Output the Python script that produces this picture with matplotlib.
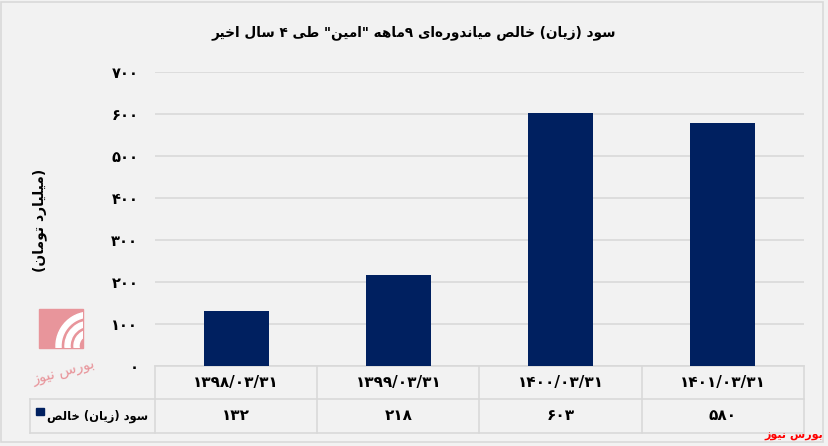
import matplotlib
matplotlib.use('Agg')
import matplotlib.pyplot as plt
from matplotlib.patches import Rectangle, Wedge
from matplotlib.lines import Line2D

# data
categories = ['۱۳۹۸/۰۳/۳۱', '۱۳۹۹/۰۳/۳۱', '۱۴۰۰/۰۳/۳۱', '۱۴۰۱/۰۳/۳۱']
values = [132, 218, 603, 580]
value_labels = ['۱۳۲', '۲۱۸', '۶۰۳', '۵۸۰']
y_ticks = [0, 100, 200, 300, 400, 500, 600, 700]
y_tick_labels = ['۰', '۱۰۰', '۲۰۰', '۳۰۰', '۴۰۰', '۵۰۰', '۶۰۰', '۷۰۰']
title = 'سود (زیان) خالص میاندوره\u200cای ۹ماهه "امین" طی ۴ سال اخیر'
y_label = '(میلیارد تومان)'
series_name = 'سود (زیان) خالص'
source = 'بورس نیوز'

# presentation forms: isolated, final, initial, medial (None = right-joining only)
FORMS = {
    'ا': (0xFE8D, 0xFE8E, None, None),
    'ب': (0xFE8F, 0xFE90, 0xFE91, 0xFE92),
    'ت': (0xFE95, 0xFE96, 0xFE97, 0xFE98),
    'ث': (0xFE99, 0xFE9A, 0xFE9B, 0xFE9C),
    'ج': (0xFE9D, 0xFE9E, 0xFE9F, 0xFEA0),
    'ح': (0xFEA1, 0xFEA2, 0xFEA3, 0xFEA4),
    'خ': (0xFEA5, 0xFEA6, 0xFEA7, 0xFEA8),
    'د': (0xFEA9, 0xFEAA, None, None),
    'ذ': (0xFEAB, 0xFEAC, None, None),
    'ر': (0xFEAD, 0xFEAE, None, None),
    'ز': (0xFEAF, 0xFEB0, None, None),
    'س': (0xFEB1, 0xFEB2, 0xFEB3, 0xFEB4),
    'ش': (0xFEB5, 0xFEB6, 0xFEB7, 0xFEB8),
    'ص': (0xFEB9, 0xFEBA, 0xFEBB, 0xFEBC),
    'ض': (0xFEBD, 0xFEBE, 0xFEBF, 0xFEC0),
    'ط': (0xFEC1, 0xFEC2, 0xFEC3, 0xFEC4),
    'ظ': (0xFEC5, 0xFEC6, 0xFEC7, 0xFEC8),
    'ع': (0xFEC9, 0xFECA, 0xFECB, 0xFECC),
    'غ': (0xFECD, 0xFECE, 0xFECF, 0xFED0),
    'ف': (0xFED1, 0xFED2, 0xFED3, 0xFED4),
    'ق': (0xFED5, 0xFED6, 0xFED7, 0xFED8),
    'ل': (0xFEDD, 0xFEDE, 0xFEDF, 0xFEE0),
    'م': (0xFEE1, 0xFEE2, 0xFEE3, 0xFEE4),
    'ن': (0xFEE5, 0xFEE6, 0xFEE7, 0xFEE8),
    'و': (0xFEED, 0xFEEE, None, None),
    'ه': (0xFEE9, 0xFEEA, 0xFEEB, 0xFEEC),
    # Persian yeh: dotless when isolated/final, dotted when joined forward
    'ی': (0xFEEF, 0xFEF0, 0xFEF3, 0xFEF4),
}
MIRROR = {'(': ')', ')': '('}


def shape(text):
    # join letters into contextual forms
    out = []
    n = len(text)
    for i, ch in enumerate(text):
        if ch == '\u200c':
            continue
        if ch not in FORMS:
            out.append(ch)
            continue
        f = FORMS[ch]
        prev = text[i - 1] if i > 0 else ''
        nxt = text[i + 1] if i + 1 < n else ''
        join_prev = prev in FORMS and FORMS[prev][2] is not None
        join_next = nxt in FORMS and f[2] is not None
        if join_prev and join_next:
            code = f[3]
        elif join_prev:
            code = f[1]
        elif join_next:
            code = f[2]
        else:
            code = f[0]
        out.append(chr(code))
    return ''.join(out)


def rtl(text):
    # shape, then reverse for display while keeping digit runs in order
    s = shape(text)
    runs = []
    buf = ''
    for ch in s:
        if '\u06f0' <= ch <= '\u06f9' or ch.isdigit():
            buf += ch
        else:
            if buf:
                runs.append(buf)
                buf = ''
            runs.append(MIRROR.get(ch, ch))
    if buf:
        runs.append(buf)
    return ''.join(reversed(runs))


plt.rcParams['font.family'] = ['DejaVu Sans']
plt.rcParams['font.weight'] = 'bold'

W, H = 829, 446
fig = plt.figure(figsize=(W / 100, H / 100), dpi=100, facecolor='#f2f2f2')

# outer frame
fig.add_artist(Rectangle((1 / W, 1 - 442 / H), 822 / W, 440 / H, transform=fig.transFigure,
                         fill=False, edgecolor='#d9d9d9', lw=1.2))

ax_l, ax_r, ax_top, ax_bot = 155, 804, 72.3, 366.3
ax = fig.add_axes([ax_l / W, 1 - ax_bot / H, (ax_r - ax_l) / W, (ax_bot - ax_top) / H])
ax.set_facecolor('#f2f2f2')

x = list(range(len(categories)))
ax.bar(x, values, width=0.4, color='#002060', zorder=3)
ax.set_xlim(-0.5, len(categories) - 0.5)
ax.set_ylim(0, 700)
ax.set_yticks(y_ticks)
ax.set_yticklabels(y_tick_labels, fontsize=10.5, fontweight='bold')
ax.set_xticks([])
ax.tick_params(axis='y', length=0, pad=12)
ax.grid(axis='y', color='#d9d9d9', lw=1.2, zorder=0)
for s in ax.spines.values():
    s.set_visible(False)

# data table under the chart
bt = ax.get_xaxis_transform()
axh = ax_bot - ax_top
axw = ax_r - ax_l
row1 = -(399 - ax_bot) / axh
row2 = -(433 - ax_bot) / axh
leg_left = (30 - ax_l) / axw
lc = '#d9d9d9'
ax.add_line(Line2D([-0.5, 3.5], [0, 0], transform=bt, color=lc, lw=1.2, clip_on=False))
for yy in (row1, row2):
    ax.add_line(Line2D([leg_left, 1], [yy, yy], transform=ax.transAxes, color=lc, lw=1.2, clip_on=False))
ax.add_line(Line2D([leg_left, leg_left], [row1, row2], transform=ax.transAxes, color=lc, lw=1.2, clip_on=False))
for xb in [-0.5, 0.5, 1.5, 2.5, 3.5]:
    ax.add_line(Line2D([xb, xb], [0, row2], transform=bt, color=lc, lw=1.2, clip_on=False))
for xi, cat, vl in zip(x, categories, value_labels):
    ax.text(xi, row1 / 2, cat, transform=bt, ha='center', va='center', fontsize=11, fontweight='bold')
    ax.text(xi, (row1 + row2) / 2, vl, transform=bt, ha='center', va='center', fontsize=11, fontweight='bold')

# legend key in the table
ax.text(-0.011, (row1 + row2) / 2, rtl(series_name), transform=ax.transAxes, ha='right', va='center',
        fontsize=8.3, fontweight='bold')
ax.add_patch(Rectangle(((36 - ax_l) / axw, -(415 - ax_bot) / axh), 8 / axw, 7 / axh,
                       transform=ax.transAxes, color='#002060', clip_on=False))

fig.text(414 / W, 1 - 33 / H, rtl(title), ha='center', va='center', fontsize=9.8, fontweight='bold')
fig.text(40 / W, 1 - 220 / H, rtl(y_label), ha='center', va='center', rotation=90, fontsize=10, fontweight='bold')
fig.text(823 / W, 1 - 436 / H, rtl(source), ha='right', va='center', fontsize=8, fontweight='bold', color='#ff0000')

# faint logo watermark
pink = '#e8959b'
sq = Rectangle((39 / W, 1 - 348 / H), 44 / W, 39 / H, transform=fig.transFigure, color=pink)
fig.add_artist(sq)
for r, w in [(34, 5), (25, 5), (16, 5)]:
    wd = Wedge((90, H - 346), r, 95, 200, width=w, transform=None, color='white')
    wd.set_clip_path(sq)
    fig.add_artist(wd)
fig.text(64 / W, 1 - 371 / H, rtl(source), ha='center', va='center', fontsize=10.5, color=pink,
         fontweight='normal', rotation=15)

fig.savefig('out.png', dpi=100, facecolor=fig.get_facecolor())
